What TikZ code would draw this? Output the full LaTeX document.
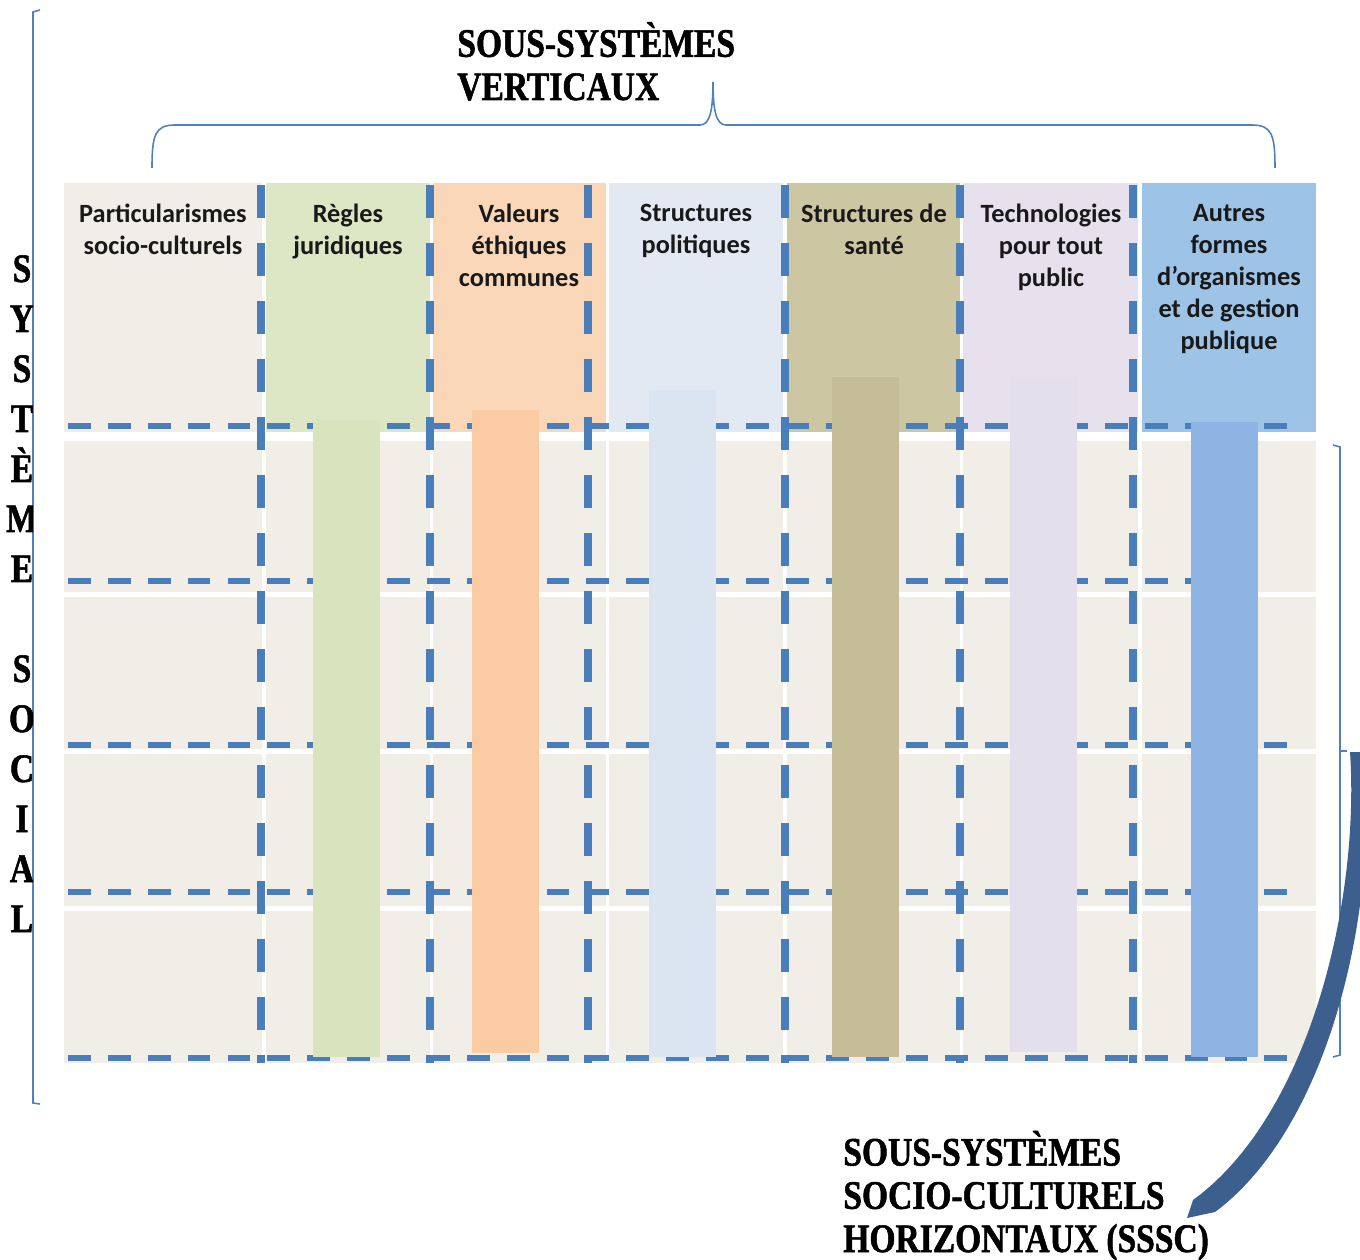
\documentclass[tikz,border=0pt]{standalone}
\usepackage{fontspec}
\setsansfont{Carlito}
\newfontfamily\titlefont[FakeStretch=0.83, FakeBold=1.3]{Liberation Serif Bold}
\usepackage{xcolor}
\usetikzlibrary{positioning}

\definecolor{cellgray}{HTML}{F0EEE7}
\definecolor{hdrB}{HTML}{DDE6C5}
\definecolor{hdrC}{HTML}{FBD7BA}
\definecolor{hdrD}{HTML}{E2E9F2}
\definecolor{hdrE}{HTML}{CCC6A3}
\definecolor{hdrF}{HTML}{E7E1EE}
\definecolor{hdrG}{HTML}{9DC3E6}
\definecolor{barB}{HTML}{D7E4BD}
\definecolor{barC}{HTML}{FBCBA4}
\definecolor{barD}{HTML}{DBE5F1}
\definecolor{barE}{HTML}{C4BD97}
\definecolor{barF}{HTML}{E4DFEC}
\definecolor{barG}{HTML}{8EB4E3}
\definecolor{dashblue}{HTML}{4A7EBB}
\definecolor{braceblue}{HTML}{4F81BD}
\definecolor{arrowblue}{HTML}{3C5F8E}

\begin{document}
\begin{tikzpicture}[x=0.02cm, y=-0.02cm, font=\sffamily]

    % --- STYLES ---
    \tikzset{
        hdash/.style={draw=dashblue, line width=3.3pt, dash pattern=on 13pt off 9.7pt},
        vdash/.style={draw=dashblue, line width=4.5pt, dash pattern=on 18.8pt off 14.2pt},
        brace/.style={draw=braceblue, line width=0.9pt},
        hdrtext/.style={font=\sffamily\bfseries\fontsize{15}{18.2}\selectfont, align=center, anchor=north, inner sep=0pt, text=black!90},
        bigcaps/.style={font=\titlefont\fontsize{23}{24.6}\selectfont, align=left, inner sep=0pt}
    }

    \useasboundingbox (0,0) rectangle (1360,1260);

    % --- EN-TETES DES COLONNES ---
    \foreach \xa/\xb/\colr in {64/262/cellgray, 266/430/hdrB, 433/606/hdrC, 609/783/hdrD,
                               787/960/hdrE, 963/1138/hdrF, 1142/1316/hdrG}
        \fill[\colr] (\xa,183) rectangle (\xb,432);

    % --- CELLULES DU BAS ---
    \foreach \xa/\xb in {64/262, 266/430, 433/606, 609/783, 787/960, 963/1138, 1142/1316}
        \foreach \ya/\yb in {441/592, 597/749, 754/906, 911/1063}
            \fill[cellgray] (\xa,\ya) rectangle (\xb,\yb);

    % --- LIGNES HORIZONTALES ---
    \foreach \y/\xe in {426/1300, 581/1262, 745/1300, 892/1300, 1058/1300}
        \draw[hdash] (68,\y) -- (\xe,\y);

    % --- BARRES VERTICALES ---
    \foreach \xa/\ya/\yb/\colr in {313/420/1057/barB, 472/410/1053/barC, 649/390/1057/barD,
                                   832/377/1057/barE, 1010/377/1052/barF, 1191/422/1057/barG}
        \fill[\colr] (\xa,\ya) rectangle ({\xa+67},\yb);

    % --- LIGNES VERTICALES ---
    \foreach \x in {261, 430, 588, 785, 960, 1133}
        \draw[vdash] (\x,185) -- (\x,1063);

    % --- TEXTES DES EN-TETES ---
    \node[hdrtext] (particul) at (163,204) {Particularismes\\socio-culturels};
    \node[hdrtext] (regles) at (348,204) {Règles\\juridiques};
    \node[hdrtext] (valeurs) at (519,204) {Valeurs\\éthiques\\communes};
    \node[hdrtext] (politiq) at (696,204) {Structures\\politiques};
    \node[hdrtext] (sante) at (874,204) {Structures de\\santé};
    \node[hdrtext] (techno) at (1051,204) {Technologies\\pour tout\\public};
    \node[hdrtext] (autres) at (1229,204) {Autres\\formes\\d’organismes\\et de gestion\\publique};

    % --- ACCOLADE DU HAUT ---
    \draw[brace] (152,168) .. controls (152,135) and (155,125) .. (175,125) -- (700,125)
        .. controls (710,125) and (713,110) .. (713,82)
        .. controls (713,110) and (716,125) .. (726,125) -- (1252,125)
        .. controls (1272,125) and (1275,135) .. (1275,168);

    % --- CROCHETS ---
    \draw[brace] (40,10) -- (33,12) -- (33,1103) -- (40,1104);
    \draw[brace] (1333,445) -- (1340,447) -- (1340,1055) -- (1333,1057);
    \draw[brace] (1340,751) -- (1347,751);

    % --- SYSTEME SOCIAL (lettres coupees par le crochet) ---
    \begin{scope}
        \clip (0,0) rectangle (33,1260);
        \foreach \ch [count=\i] in {S,Y,S,T,È,M,E}
            \node[bigcaps, anchor=base] (sys\i) at (22,{282+50*(\i-1)}) {\ch};
        \foreach \ch [count=\i] in {S,O,C,I,A,L}
            \node[bigcaps, anchor=base] (soc\i) at (22,{682+50*(\i-1)}) {\ch};
    \end{scope}

    % --- TITRES (ancre sur la derniere ligne) ---
    \node[bigcaps, anchor=base west] (ttlvert) at (457,100) {SOUS-SYSTÈMES\\VERTICAUX};
    \node[bigcaps, anchor=base west] (ttlhoriz) at (843,1252) {SOUS-SYSTÈMES\\SOCIO-CULTURELS\\HORIZONTAUX (SSSC)};

    % --- FLECHE COURBE ---
    \fill[arrowblue] (1350,752) -- (1363,752)
        .. controls (1380,900) and (1332,1125) .. (1215,1212) -- (1187,1218) -- (1193,1200)
        .. controls (1310,1115) and (1360,900) .. (1350,752) -- cycle;

\end{tikzpicture}
\end{document}
